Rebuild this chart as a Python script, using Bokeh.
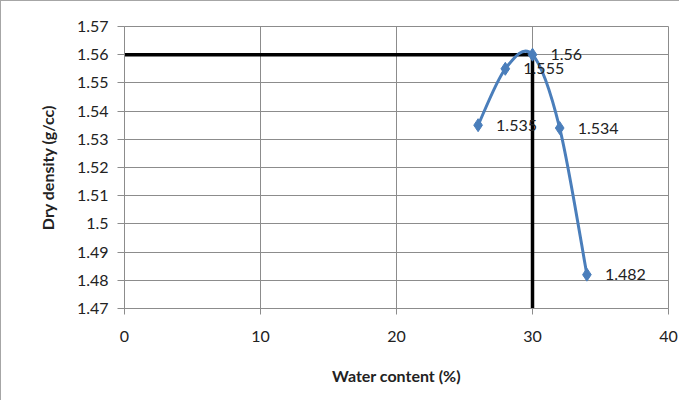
import numpy as np
from bokeh.plotting import figure
from bokeh.models import ColumnDataSource, Range1d, FixedTicker, LabelSet
from bokeh.core.properties import value
from bokeh.embed import file_html
from bokeh.resources import INLINE

# Data
water_content = [26, 28, 30, 32, 34]
dry_density = [1.535, 1.555, 1.56, 1.534, 1.482]
density_labels = ["1.535", "1.555", "1.56", "1.534", "1.482"]
opt_water = 30
max_density = 1.56
x_ticks = [0, 10, 20, 30, 40]
y_ticks = [1.47, 1.48, 1.49, 1.50, 1.51, 1.52, 1.53, 1.54, 1.55, 1.56, 1.57]
y_tick_labels = ["1.47", "1.48", "1.49", "1.5", "1.51", "1.52", "1.53", "1.54", "1.55", "1.56", "1.57"]

FONT = "Lato"
GRID = "#8c8c8c"
BLUE = "#4a7ebb"

p = figure(width=679, height=400, output_backend="svg", toolbar_location=None,
           x_range=Range1d(0, 40), y_range=Range1d(1.47, 1.57),
           min_border_left=123, min_border_right=12, min_border_top=25, min_border_bottom=93)
p.styles = {"border-left": "1px solid #a6a6a6", "border-top": "1px solid #a6a6a6"}

p.outline_line_color = GRID
p.background_fill_color = "white"
p.border_fill_color = "white"

p.xgrid.ticker = FixedTicker(ticks=x_ticks)
p.ygrid.ticker = FixedTicker(ticks=y_ticks)
p.grid.grid_line_color = GRID
p.grid.grid_line_width = 1

p.xaxis.ticker = FixedTicker(ticks=x_ticks)
p.yaxis.ticker = FixedTicker(ticks=y_ticks)
p.yaxis.major_label_overrides = {t: l for t, l in zip(y_ticks, y_tick_labels)}
for ax in (p.xaxis, p.yaxis):
    ax.axis_line_color = GRID
    ax.major_tick_line_color = GRID
    ax.minor_tick_line_color = None
    ax.major_tick_in = 0
    ax.major_label_text_font = FONT
    ax.major_label_text_font_size = "16px"
    ax.major_label_text_color = "#222222"
    ax.axis_label_text_font = FONT
    ax.axis_label_text_font_size = "16px"
    ax.axis_label_text_font_style = "bold"
    ax.axis_label_text_color = "#222222"
p.xaxis.major_tick_out = 6
p.yaxis.major_tick_out = 7
p.xaxis.major_label_standoff = 16
p.yaxis.major_label_standoff = 9
p.xaxis.axis_label = "Water content (%)"
p.yaxis.axis_label = "Dry density (g/cc)"
p.xaxis.axis_label_standoff = 21
p.yaxis.axis_label_standoff = 17

src = ColumnDataSource(dict(x=water_content, y=dry_density, lab=density_labels))

labels = LabelSet(x="x", y="y", text="lab", source=src, x_offset=18, y_offset=0,
                  text_baseline="middle", text_align="left", text_font=value(FONT),
                  text_font_size=value("16px"), text_color=value("#222222"))
p.add_layout(labels)

# Reference lines to the maximum dry density
p.line([x_ticks[0], opt_water], [max_density, max_density], line_color="black", line_width=3.5)
p.line([opt_water, opt_water], [max_density, y_ticks[0]], line_color="black", line_width=3.5)

# Smoothed curve (Catmull-Rom -> Bezier)
xs = np.array(water_content, dtype=float)
ys = np.array(dry_density, dtype=float)
px = np.concatenate([[xs[0]], xs, [xs[-1]]])
py = np.concatenate([[ys[0]], ys, [ys[-1]]])
n = len(xs)
x0 = xs[:-1]; y0 = ys[:-1]; x1 = xs[1:]; y1 = ys[1:]
cx0 = x0 + (px[2:n+1] - px[0:n-1]) / 6
cy0 = y0 + (py[2:n+1] - py[0:n-1]) / 6
cx1 = x1 - (px[3:n+2] - px[1:n]) / 6
cy1 = y1 - (py[3:n+2] - py[1:n]) / 6
p.bezier(x0=x0, y0=y0, x1=x1, y1=y1, cx0=cx0, cy0=cy0, cx1=cx1, cy1=cy1,
         line_color=BLUE, line_width=3)
p.scatter("x", "y", source=src, marker="diamond", size=13, fill_color=BLUE, line_color=BLUE)

open("out.html", "w").write(file_html(p, INLINE))
